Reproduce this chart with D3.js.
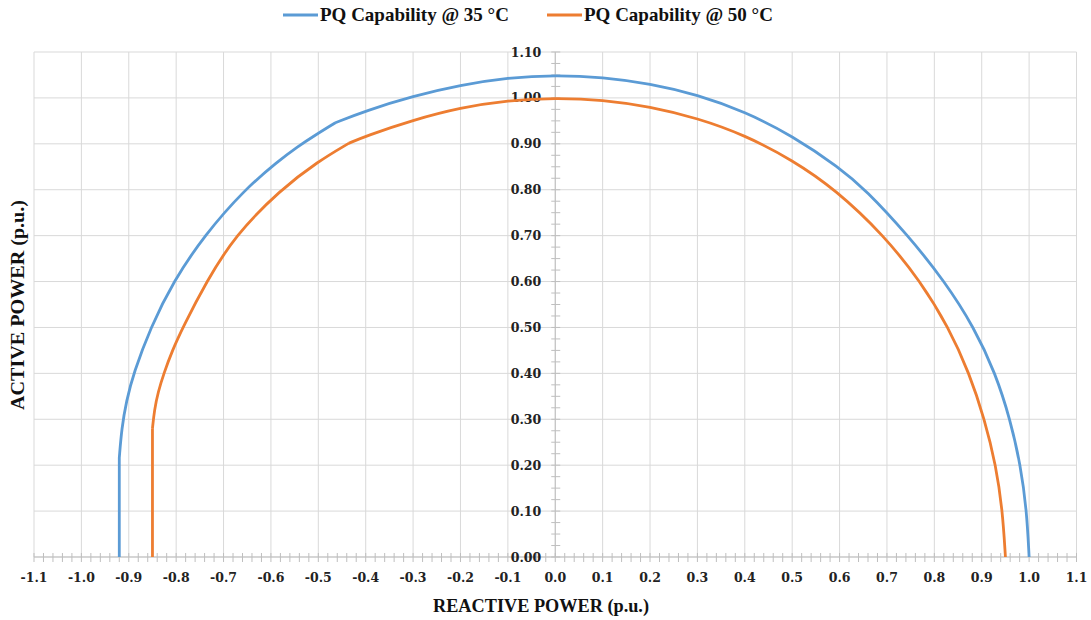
<!DOCTYPE html>
<html><head><meta charset="utf-8">
<script src="https://cdn.jsdelivr.net/npm/d3@7"></script>
<style>body{margin:0;background:#fff}svg{display:block}</style>
</head><body><svg id="c" width="1091" height="620"></svg>
<script>
const seriesNames = ["PQ Capability @ 35 °C", "PQ Capability @ 50 °C"];
const seriesColors = ["#5B9BD5", "#ED7D31"];
const xTicks = [-1.1,-1.0,-0.9,-0.8,-0.7,-0.6,-0.5,-0.4,-0.3,-0.2,-0.1,0,0.1,0.2,0.3,0.4,0.5,0.6,0.7,0.8,0.9,1.0,1.1];
const yTicks = [0,0.1,0.2,0.3,0.4,0.5,0.6,0.7,0.8,0.9,1.0,1.1];
// 35 °C curve (reactive Q, active P)
const q35 = [-0.920,-0.920,-0.915,-0.905,-0.890,-0.854,-0.806,-0.741,-0.656,-0.585,-0.545,-0.505,-0.464,-0.400,-0.300,-0.200,-0.100,0.000,0.100,0.200,0.300,0.400,0.500,0.600,0.655,0.745,0.822,0.884,0.929,0.960,0.982,0.995,1.000];
const p35 = [0.000,0.216,0.280,0.340,0.400,0.500,0.600,0.700,0.800,0.862,0.893,0.920,0.946,0.972,1.004,1.028,1.044,1.050,1.045,1.031,1.007,0.970,0.918,0.848,0.800,0.700,0.600,0.500,0.400,0.300,0.200,0.100,0.000];
const corners35 = [1, 12];
// 50 °C curve
const q50 = [-0.850,-0.850,-0.846,-0.838,-0.826,-0.808,-0.786,-0.736,-0.676,-0.580,-0.500,-0.436,-0.400,-0.300,-0.200,-0.100,0.000,0.100,0.200,0.300,0.400,0.500,0.592,0.694,0.771,0.830,0.874,0.906,0.930,0.944,0.950];
const p50 = [0.000,0.280,0.320,0.360,0.400,0.450,0.500,0.600,0.700,0.800,0.862,0.901,0.917,0.952,0.979,0.995,1.000,0.996,0.981,0.956,0.919,0.865,0.800,0.700,0.600,0.500,0.400,0.300,0.200,0.100,0.000];
const corners50 = [1, 11];

const svg = d3.select("#c");
const x = d3.scaleLinear().domain([-1.1,1.1]).range([34,1076.5]);
const y = d3.scaleLinear().domain([0,1.1]).range([557,52]);
const grid = "#d9d9d9";
const numFont = "'DejaVu Serif', 'Liberation Serif', serif";

// gridlines
svg.append("g").selectAll("line").data(xTicks).join("line")
  .attr("x1",d=>x(d)).attr("x2",d=>x(d)).attr("y1",y(0)).attr("y2",y(1.1))
  .attr("stroke",grid).attr("stroke-width",1);
svg.append("g").selectAll("line").data(yTicks).join("line")
  .attr("y1",d=>y(d)).attr("y2",d=>y(d)).attr("x1",x(-1.1)).attr("x2",x(1.1))
  .attr("stroke",grid).attr("stroke-width",1);

// x axis with minor crossing ticks
const xMinor = d3.range(-110,111,2).map(v=>v/100);
const gx = svg.append("g");
gx.append("line").attr("x1",x(-1.1)).attr("x2",x(1.1)).attr("y1",y(0)).attr("y2",y(0)).attr("stroke","#bfbfbf");
gx.selectAll("line.t").data(xMinor).join("line").attr("class","t")
  .attr("x1",d=>x(d)).attr("x2",d=>x(d)).attr("y1",y(0)-4).attr("y2",y(0)+5)
  .attr("stroke","#bfbfbf");
gx.selectAll("text").data(xTicks).join("text")
  .attr("x",d=>x(d)).attr("y",582).attr("text-anchor","middle")
  .attr("font-family",numFont).attr("font-weight","bold").attr("font-size",12.5).attr("fill","#222")
  .text(d=>d3.format(".1f")(d).replace("−","-"));

// y axis at x=0 with minor crossing ticks
const yMinor = d3.range(0,111,2.5).map(v=>v/100);
const gy = svg.append("g");
gy.append("line").attr("x1",x(0)).attr("x2",x(0)).attr("y1",y(0)).attr("y2",y(1.1)).attr("stroke","#bfbfbf");
gy.selectAll("line.t").data(yMinor).join("line").attr("class","t")
  .attr("y1",d=>y(d)).attr("y2",d=>y(d)).attr("x1",x(0)-4).attr("x2",x(0)+5)
  .attr("stroke","#bfbfbf");
gy.selectAll("text").data(yTicks).join("text")
  .attr("x",x(0)-14).attr("y",d=>y(d)+4.5).attr("text-anchor","end")
  .attr("font-family",numFont).attr("font-weight","bold").attr("font-size",12.5).attr("fill","#222")
  .text(d=>d3.format(".2f")(d));

// curves: split at corner points, each piece a smooth curve
const line = d3.line().x(d=>x(d[0])).y(d=>y(d[1])).curve(d3.curveBasis);
function pieces(qs, ps, corners){
  const pts = qs.map((q,i)=>[q,ps[i]]);
  const cuts = [0, ...corners, pts.length-1];
  const out = [];
  for(let k=0;k<cuts.length-1;k++) out.push(pts.slice(cuts[k], cuts[k+1]+1));
  return out;
}
[[q35,p35,corners35],[q50,p50,corners50]].forEach((s,i)=>{
  const d = pieces(s[0],s[1],s[2]).map(seg=>line(seg)).join("");
  svg.append("path").attr("d",d).attr("fill","none")
    .attr("stroke",seriesColors[i]).attr("stroke-width",2.8)
    .attr("stroke-linejoin","round").attr("stroke-linecap","butt");
});

// legend
const legX = [283,547];
seriesNames.forEach((n,i)=>{
  const g = svg.append("g");
  g.append("line").attr("x1",legX[i]).attr("x2",legX[i]+35).attr("y1",15).attr("y2",15)
    .attr("stroke",seriesColors[i]).attr("stroke-width",2.8);
  g.append("text").attr("x",legX[i]+37).attr("y",21)
    .attr("font-family","'Liberation Serif', serif").attr("font-weight","bold").attr("font-size",19).attr("fill","#111")
    .text(n);
});

// axis titles
svg.append("text").attr("x",541).attr("y",612).attr("text-anchor","middle")
  .attr("font-family","'Liberation Serif', serif").attr("font-weight","bold").attr("font-size",19).attr("fill","#111")
  .attr("textLength",216).attr("lengthAdjust","spacingAndGlyphs")
  .text("REACTIVE POWER (p.u.)");
svg.append("text").attr("transform","translate(24,305) rotate(-90)").attr("text-anchor","middle")
  .attr("font-family","'Liberation Serif', serif").attr("font-weight","bold").attr("font-size",19).attr("fill","#111")
  .attr("textLength",210).attr("lengthAdjust","spacingAndGlyphs")
  .text("ACTIVE POWER (p.u.)");
</script></body></html>
